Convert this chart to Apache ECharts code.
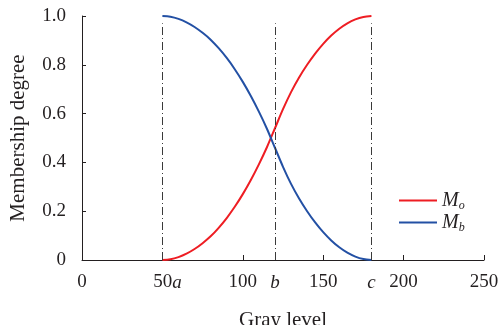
<!DOCTYPE html>
<html>
<head>
<meta charset="utf-8">
<script src="https://cdn.jsdelivr.net/npm/echarts@6/dist/echarts.min.js"></script>
<style>
  html, body { margin: 0; padding: 0; background: #fff; }
  #chart { width: 501px; height: 325px; }
</style>
</head>
<body>
<div id="chart"></div>
<script>
const grayLevel = [50, 55, 60, 65, 70, 75, 80, 85, 90, 95, 100, 105, 110, 115, 120, 125, 130, 135, 140, 145, 150, 155, 160, 165, 170, 175, 180];
const objectDegree = [0, 0.003, 0.012, 0.026, 0.045, 0.069, 0.097, 0.132, 0.172, 0.218, 0.27, 0.328, 0.392, 0.462, 0.54, 0.618, 0.688, 0.748, 0.8, 0.846, 0.886, 0.92, 0.948, 0.97, 0.986, 0.996, 1];
const backgroundDegree = [1, 0.997, 0.988, 0.974, 0.955, 0.931, 0.903, 0.868, 0.828, 0.782, 0.73, 0.672, 0.608, 0.538, 0.46, 0.382, 0.312, 0.252, 0.2, 0.154, 0.114, 0.08, 0.052, 0.03, 0.014, 0.004, 0];
const thresholds = [50, 120, 180];
const thresholdNames = ["a", "b", "c"];
const guideTop = 0.97;
const xTicks = [0, 50, 100, 150, 200, 250];

const textColor = "#231f20";
const serif = "'Liberation Serif', 'Times New Roman', serif";

const chart = echarts.init(document.getElementById("chart"));

function pairs(ys) {
  return grayLevel.map((x, i) => [x, ys[i]]);
}

function xLabel(value) {
  const k = thresholds.indexOf(value);
  if (k < 0) return String(value);
  if (xTicks.includes(value)) return "{p|}" + value + "{i|" + thresholdNames[k] + "}";
  return "{i|" + thresholdNames[k] + "}";
}

chart.setOption({
  animation: false,
  grid: { left: 82, right: 17, top: 16, bottom: 65, outerBoundsMode: "none" },
  legend: {
    orient: "vertical",
    left: 394,
    top: 185.5,
    icon: "rect",
    itemWidth: 38,
    itemHeight: 2,
    itemGap: 1,
    data: ["Mo", "Mb"],
    formatter: (name) => "{m|M}{s|" + name.slice(1) + "}",
    textStyle: {
      color: textColor,
      fontFamily: serif,
      rich: {
        m: { fontFamily: serif, fontStyle: "italic", fontSize: 20, color: textColor, lineHeight: 22 },
        s: { fontFamily: serif, fontStyle: "italic", fontSize: 12, color: textColor, verticalAlign: "bottom", lineHeight: 22, padding: [8, 0, 0, 0] },
      },
    },
  },
  xAxis: {
    type: "value",
    min: 0,
    max: 250,
    interval: 50,
    name: "Gray level",
    nameLocation: "middle",
    nameGap: 50,
    nameTextStyle: { fontFamily: serif, fontSize: 21, color: textColor, verticalAlign: "top" },
    splitLine: { show: false },
    axisLine: { lineStyle: { color: textColor, width: 1 } },
    axisTick: { inside: true, length: 5, customValues: xTicks, lineStyle: { color: textColor } },
    axisLabel: {
      customValues: [...xTicks, ...thresholds.filter((t) => !xTicks.includes(t))].sort((p, q) => p - q),
      formatter: xLabel,
      margin: 13,
      fontFamily: serif,
      fontSize: 19,
      color: textColor,
      rich: {
        p: { width: 10 },
        i: { fontFamily: serif, fontStyle: "italic", fontSize: 19, color: textColor },
      },
    },
  },
  yAxis: {
    type: "value",
    min: 0,
    max: 1,
    interval: 0.2,
    name: "Membership degree",
    nameLocation: "middle",
    nameGap: 53,
    nameTextStyle: { fontFamily: serif, fontSize: 21, color: textColor },
    splitLine: { show: false },
    axisLine: { show: true, lineStyle: { color: textColor, width: 1 } },
    axisTick: { show: true, inside: true, length: 4, lineStyle: { color: textColor } },
    axisLabel: {
      margin: 16,
      fontFamily: serif,
      fontSize: 19,
      color: textColor,
      formatter: (v) => (v === 0 ? "0" : v.toFixed(1)),
    },
  },
  series: [
    {
      name: "Mo",
      type: "line",
      data: pairs(objectDegree),
      smooth: 0.3,
      symbol: "none",
      lineStyle: { color: "#ee1d23", width: 2 },
      itemStyle: { color: "#ee1d23" },
      z: 3,
      markLine: {
        silent: true,
        symbol: "none",
        label: { show: false },
        lineStyle: { color: "#3a3a3a", width: 1, type: [8, 3, 1, 3] },
        data: thresholds.map((t) => [{ coord: [t, 0] }, { coord: [t, guideTop] }]),
      },
    },
    {
      name: "Mb",
      type: "line",
      data: pairs(backgroundDegree),
      smooth: 0.3,
      symbol: "none",
      lineStyle: { color: "#2350a4", width: 2 },
      itemStyle: { color: "#2350a4" },
      z: 3,
    },
  ],
});
</script>
</body>
</html>
